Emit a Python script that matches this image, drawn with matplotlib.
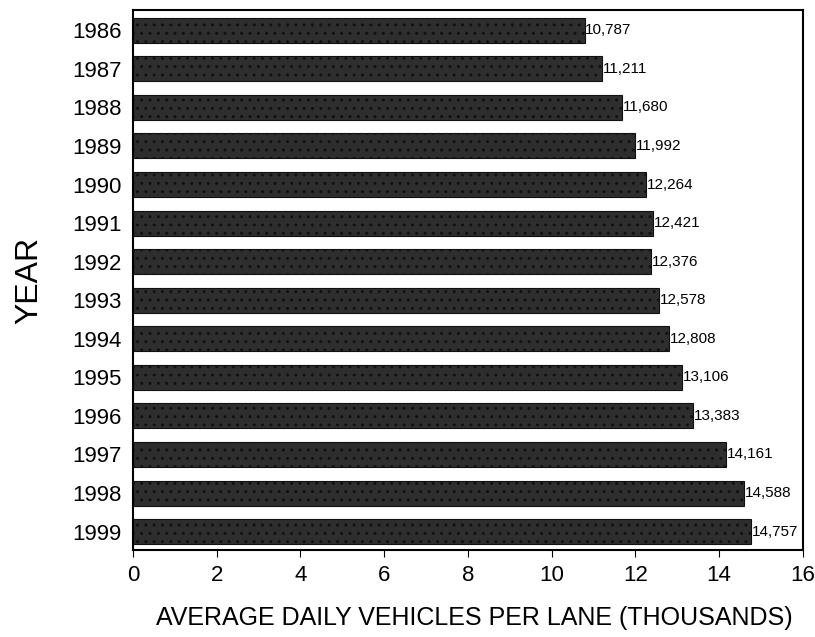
import numpy as np
import matplotlib.pyplot as plt

years = ['1986', '1987', '1988', '1989', '1990', '1991', '1992',
         '1993', '1994', '1995', '1996', '1997', '1998', '1999']
vehicles = [10787, 11211, 11680, 11992, 12264, 12421, 12376,
            12578, 12808, 13106, 13383, 14161, 14588, 14757]

plt.rcParams['font.family'] = ['Liberation Sans', 'DejaVu Sans']
plt.rcParams['hatch.color'] = '#7a7a7a'

fig = plt.figure(figsize=(8.15, 6.37), dpi=100)
ax = fig.add_axes([0.163, 0.137, 0.822, 0.847])

pos = np.arange(len(years))
vals = np.array(vehicles) / 1000.0
ax.barh(pos, vals, height=0.65, color='#2e2e2e', edgecolor='#111111',
        hatch='..', linewidth=0.8)

for p, v in zip(pos, vehicles):
    ax.text(v / 1000.0 + 0.02, p, f'{v:,}', va='center', ha='left', fontsize=11)

ax.set_yticks(pos)
ax.set_yticklabels(years, fontsize=16)
ax.set_ylim(13.47, -0.52)
ax.set_xlim(0, 16)
ax.set_xticks(range(0, 17, 2))
ax.tick_params(axis='x', labelsize=16, direction='out', length=5, pad=6)
ax.tick_params(axis='y', length=0, pad=8)
ax.set_xlabel('AVERAGE DAILY VEHICLES PER LANE (THOUSANDS)', fontsize=18)
ax.xaxis.set_label_coords(0.51, -0.105)
ax.set_ylabel('YEAR', fontsize=23, labelpad=20)
for s in ax.spines.values():
    s.set_linewidth(1.5)

fig.savefig('out.png', dpi=100)
